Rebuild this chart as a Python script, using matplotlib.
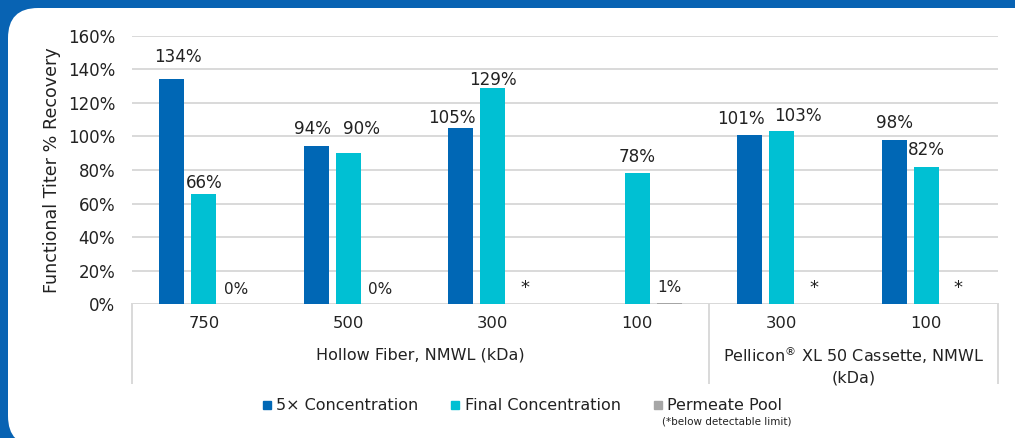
import matplotlib.pyplot as plt
import numpy as np
from matplotlib.patches import FancyBboxPatch
from matplotlib.lines import Line2D

categories = ['750', '500', '300', '100', '300', '100']
groups = ['Hollow Fiber, NMWL (kDa)', 'Pellicon$^{®}$ XL 50 Cassette, NMWL\n(kDa)']
group_sizes = [4, 2]

conc_5x = [134, 94, 105, None, 101, 98]
conc_final = [66, 90, 129, 78, 103, 82]
permeate = [0, 0, None, 1, None, None]

# label text, label height (% units) and small sideways nudge (category units)
labels_5x = ['134%', '94%', '105%', '', '101%', '98%']
labels_5x_y = [147.5, 104.6, 111.1, 0, 110.6, 108.0]
labels_5x_dx = [0.042, -0.028, -0.062, 0, -0.06, 0]
labels_final = ['66%', '90%', '129%', '78%', '103%', '82%']
labels_final_y = [72.5, 104.6, 133.5, 88.0, 112.3, 92.0]
labels_final_dx = [0, 0.09, 0, 0, 0.114, 0]
labels_perm = ['0%', '0%', '*', '1%', '*', '*']
labels_perm_y = [9.0, 9.0, 10.0, 9.8, 10.0, 10.0]

c_5x = '#0067b5'
c_final = '#00c0d3'
c_perm = '#a6a6a6'
txt = '#222222'
bg_blue = '#0863b3'

fig = plt.figure(figsize=(10.15, 4.38), dpi=100)
fig.patch.set_facecolor(bg_blue)

# white rounded panel (pixel coordinates)
panel = FancyBboxPatch((8, -8), 1040, 438, boxstyle='round,pad=0,rounding_size=30',
                       transform=None, facecolor='white', edgecolor='none', zorder=-10)
fig.patches.append(panel)

ax = fig.add_axes([131.7 / 1015, 1 - 304.3 / 438, 866.6 / 1015, 268.6 / 438])
ax.set_facecolor('none')

x = np.arange(len(categories))
w = 0.173
off = 0.2216

def clean(vals):
    return [np.nan if v is None else v for v in vals]

ax.bar(x - off, clean(conc_5x), w, color=c_5x, zorder=3)
ax.bar(x, clean(conc_final), w, color=c_final, zorder=3)
ax.bar(x + off, clean(permeate), w, color=c_perm, zorder=3)

for i in range(len(categories)):
    if labels_5x[i]:
        ax.text(x[i] - off + labels_5x_dx[i], labels_5x_y[i], labels_5x[i], ha='center',
                va='center', fontsize=12.1, color=txt)
    ax.text(x[i] + labels_final_dx[i], labels_final_y[i], labels_final[i], ha='center',
            va='center', fontsize=12.1, color=txt)
    ax.text(x[i] + off, labels_perm_y[i], labels_perm[i], ha='center', va='center',
            fontsize=11 if labels_perm[i] != '*' else 13, color=txt)

ax.set_xlim(-0.5, len(categories) - 0.5)
ax.set_ylim(0, 160)
ax.set_yticks(range(0, 161, 20))
ax.set_yticklabels([f'{v}%' for v in range(0, 161, 20)], fontsize=12, color=txt)
ax.tick_params(axis='y', length=0, pad=12)
ax.set_xticks([])
ax.grid(axis='y', color='#d9d9d9', linewidth=1.4, zorder=0)
for s in ['top', 'right', 'left', 'bottom']:
    ax.spines[s].set_visible(False)
ax.axhline(0, color='#d9d9d9', linewidth=1.4, zorder=2)

ax.set_ylabel('Functional Titer % Recovery', fontsize=12.6, color=txt, labelpad=5)

# category labels and group dividers below the axis
trans = ax.get_xaxis_transform()
for i, c in enumerate(categories):
    ax.text(x[i], -0.071, c, transform=trans, ha='center', va='center',
            fontsize=11.8, color=txt)

edges = np.cumsum([0] + group_sizes) - 0.5
for e in edges:
    ax.add_line(Line2D([e, e], [0, -0.292], transform=trans, color='#d9d9d9',
                       linewidth=1.4, clip_on=False))

group_y = [-0.189, -0.226]
for gi, g in enumerate(groups):
    mid = (edges[gi] + edges[gi + 1]) / 2
    ax.text(mid, group_y[gi], g, transform=trans, ha='center', va='center',
            fontsize=11.5, color=txt, linespacing=1.35)

handles = [Line2D([], [], marker='s', linestyle='none', markersize=6, color=c)
           for c in (c_5x, c_final, c_perm)]
fig.legend(handles, ['5× Concentration', 'Final Concentration', 'Permeate Pool'],
           loc='center', bbox_to_anchor=(522 / 1015, 1 - 406 / 438), ncol=3,
           frameon=False, fontsize=11.5, handlelength=0.6, handletextpad=0.3,
           columnspacing=2.0, labelcolor=txt)
fig.text(662 / 1015, 1 - 421 / 438, '(*below detectable limit)', fontsize=7.5,
         color=txt, ha='left', va='center')

fig.savefig('out.png', dpi=100, facecolor=fig.get_facecolor())
